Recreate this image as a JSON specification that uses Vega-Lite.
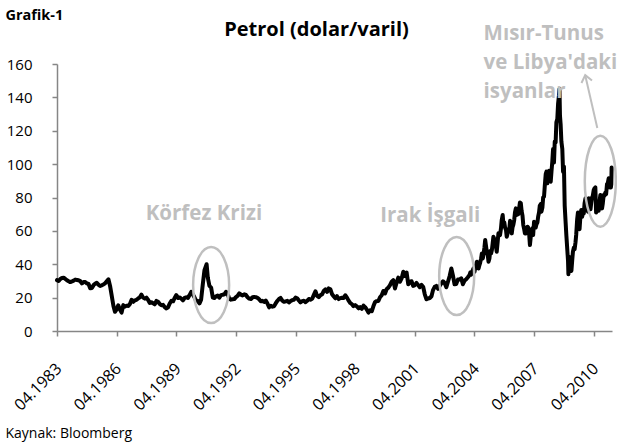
{
  "$schema": "https://vega.github.io/schema/vega-lite/v6.json",
  "autosize": {"type": "none"},
  "width": 555,
  "height": 267,
  "padding": {"left": 57, "top": 64, "right": 5, "bottom": 116},
  "background": "white",
  "config": {"view": {"stroke": null}, "font": "Open Sans"},
  "title": {"text": "Petrol (dolar/varil)", "font": "Open Sans", "fontSize": 20, "fontWeight": "bold", "color": "#000000", "anchor": "middle", "frame": "group", "dx": -18, "baseline": "alphabetic", "offset": -49},
  "datasets": {
    "oil": [
      {"d":"1983-04-01","v":30.5},{"d":"1983-05-01","v":30.0},{"d":"1983-06-01","v":31.2},{"d":"1983-07-01","v":31.8},{"d":"1983-08-01","v":31.9},{"d":"1983-09-01","v":31.2},{"d":"1983-10-01","v":30.4},{"d":"1983-11-01","v":29.8},{"d":"1983-12-01","v":29.3},
      {"d":"1984-01-01","v":29.7},{"d":"1984-02-01","v":30.2},{"d":"1984-03-01","v":30.8},{"d":"1984-04-01","v":30.6},{"d":"1984-05-01","v":30.4},{"d":"1984-06-01","v":29.9},{"d":"1984-07-01","v":28.5},{"d":"1984-08-01","v":29.4},{"d":"1984-09-01","v":29.3},{"d":"1984-10-01","v":28.6},{"d":"1984-11-01","v":28.2},{"d":"1984-12-01","v":25.6},
      {"d":"1985-01-01","v":25.8},{"d":"1985-02-01","v":27.5},{"d":"1985-03-01","v":28.3},{"d":"1985-04-01","v":28.9},{"d":"1985-05-01","v":27.8},{"d":"1985-06-01","v":27.0},{"d":"1985-07-01","v":27.4},{"d":"1985-08-01","v":27.9},{"d":"1985-09-01","v":28.6},{"d":"1985-10-01","v":29.8},{"d":"1985-11-01","v":31.0},{"d":"1985-12-01","v":27.0},
      {"d":"1986-01-01","v":21.0},{"d":"1986-02-01","v":15.0},{"d":"1986-03-01","v":11.5},{"d":"1986-04-01","v":13.0},{"d":"1986-05-01","v":15.4},{"d":"1986-06-01","v":12.8},{"d":"1986-07-01","v":11.0},{"d":"1986-08-01","v":15.5},{"d":"1986-09-01","v":14.6},{"d":"1986-10-01","v":15.2},{"d":"1986-11-01","v":15.0},{"d":"1986-12-01","v":16.2},
      {"d":"1987-01-01","v":18.7},{"d":"1987-02-01","v":17.5},{"d":"1987-03-01","v":18.4},{"d":"1987-04-01","v":18.7},{"d":"1987-05-01","v":19.5},{"d":"1987-06-01","v":20.2},{"d":"1987-07-01","v":21.8},{"d":"1987-08-01","v":20.0},{"d":"1987-09-01","v":19.4},{"d":"1987-10-01","v":20.0},{"d":"1987-11-01","v":18.6},{"d":"1987-12-01","v":16.8},
      {"d":"1988-01-01","v":17.2},{"d":"1988-02-01","v":16.6},{"d":"1988-03-01","v":16.0},{"d":"1988-04-01","v":18.0},{"d":"1988-05-01","v":17.5},{"d":"1988-06-01","v":16.2},{"d":"1988-07-01","v":15.4},{"d":"1988-08-01","v":15.7},{"d":"1988-09-01","v":14.3},{"d":"1988-10-01","v":13.5},{"d":"1988-11-01","v":14.2},{"d":"1988-12-01","v":16.5},
      {"d":"1989-01-01","v":18.1},{"d":"1989-02-01","v":17.8},{"d":"1989-03-01","v":19.8},{"d":"1989-04-01","v":21.5},{"d":"1989-05-01","v":19.8},{"d":"1989-06-01","v":20.1},{"d":"1989-07-01","v":19.4},{"d":"1989-08-01","v":18.4},{"d":"1989-09-01","v":19.8},{"d":"1989-10-01","v":20.2},{"d":"1989-11-01","v":19.8},{"d":"1989-12-01","v":21.5},
      {"d":"1990-01-01","v":23.5},{"d":"1990-02-01","v":21.8},{"d":"1990-03-01","v":20.2},{"d":"1990-04-01","v":18.2},{"d":"1990-05-01","v":18.0},{"d":"1990-06-01","v":16.5},{"d":"1990-07-01","v":18.8},{"d":"1990-08-01","v":28.0},{"d":"1990-09-01","v":36.5},{"d":"1990-10-10","v":40.0},{"d":"1990-11-01","v":32.0},{"d":"1990-12-01","v":27.0},
      {"d":"1991-01-01","v":26.0},{"d":"1991-02-01","v":20.0},{"d":"1991-03-01","v":19.8},{"d":"1991-04-01","v":20.8},{"d":"1991-05-01","v":21.2},{"d":"1991-06-01","v":20.0},{"d":"1991-07-01","v":21.5},{"d":"1991-08-01","v":21.7},{"d":"1991-09-01","v":22.0},{"d":"1991-10-01","v":23.5},{"d":"1991-11-01","v":22.3},{"d":"1991-12-01","v":19.3},
      {"d":"1992-01-01","v":18.8},{"d":"1992-02-01","v":19.0},{"d":"1992-03-01","v":19.1},{"d":"1992-04-01","v":20.3},{"d":"1992-05-01","v":21.0},{"d":"1992-06-01","v":22.5},{"d":"1992-07-01","v":21.8},{"d":"1992-08-01","v":21.3},{"d":"1992-09-01","v":22.0},{"d":"1992-10-01","v":21.6},{"d":"1992-11-01","v":20.2},{"d":"1992-12-01","v":19.4},
      {"d":"1993-01-01","v":19.2},{"d":"1993-02-01","v":20.2},{"d":"1993-03-01","v":20.4},{"d":"1993-04-01","v":20.3},{"d":"1993-05-01","v":19.9},{"d":"1993-06-01","v":19.0},{"d":"1993-07-01","v":17.8},{"d":"1993-08-01","v":18.1},{"d":"1993-09-01","v":17.4},{"d":"1993-10-01","v":18.2},{"d":"1993-11-01","v":16.5},{"d":"1993-12-01","v":14.2},
      {"d":"1994-01-01","v":15.1},{"d":"1994-02-01","v":14.6},{"d":"1994-03-01","v":14.8},{"d":"1994-04-01","v":16.5},{"d":"1994-05-01","v":18.0},{"d":"1994-06-01","v":19.2},{"d":"1994-07-01","v":19.8},{"d":"1994-08-01","v":18.2},{"d":"1994-09-01","v":17.5},{"d":"1994-10-01","v":17.8},{"d":"1994-11-01","v":18.1},{"d":"1994-12-01","v":17.1},
      {"d":"1995-01-01","v":18.0},{"d":"1995-02-01","v":18.5},{"d":"1995-03-01","v":18.7},{"d":"1995-04-01","v":20.0},{"d":"1995-05-01","v":19.6},{"d":"1995-06-01","v":18.3},{"d":"1995-07-01","v":17.2},{"d":"1995-08-01","v":17.9},{"d":"1995-09-01","v":18.1},{"d":"1995-10-01","v":17.3},{"d":"1995-11-01","v":18.1},{"d":"1995-12-01","v":19.2},
      {"d":"1996-01-01","v":18.8},{"d":"1996-02-01","v":19.3},{"d":"1996-03-01","v":21.5},{"d":"1996-04-01","v":23.8},{"d":"1996-05-01","v":21.0},{"d":"1996-06-01","v":20.3},{"d":"1996-07-01","v":21.4},{"d":"1996-08-01","v":22.0},{"d":"1996-09-01","v":24.0},{"d":"1996-10-01","v":25.0},{"d":"1996-11-01","v":23.5},{"d":"1996-12-01","v":25.5},
      {"d":"1997-01-01","v":25.0},{"d":"1997-02-01","v":22.0},{"d":"1997-03-01","v":20.8},{"d":"1997-04-01","v":19.6},{"d":"1997-05-01","v":20.9},{"d":"1997-06-01","v":19.1},{"d":"1997-07-01","v":19.7},{"d":"1997-08-01","v":19.9},{"d":"1997-09-01","v":19.8},{"d":"1997-10-01","v":21.4},{"d":"1997-11-01","v":20.0},{"d":"1997-12-01","v":18.2},
      {"d":"1998-01-01","v":16.8},{"d":"1998-02-01","v":16.0},{"d":"1998-03-01","v":14.9},{"d":"1998-04-01","v":15.5},{"d":"1998-05-01","v":14.8},{"d":"1998-06-01","v":13.6},{"d":"1998-07-01","v":14.3},{"d":"1998-08-01","v":13.3},{"d":"1998-09-01","v":15.2},{"d":"1998-10-01","v":14.3},{"d":"1998-11-01","v":12.8},{"d":"1998-12-01","v":11.0},
      {"d":"1999-01-01","v":12.4},{"d":"1999-02-01","v":11.9},{"d":"1999-03-01","v":14.8},{"d":"1999-04-01","v":17.4},{"d":"1999-05-01","v":17.9},{"d":"1999-06-01","v":18.0},{"d":"1999-07-01","v":20.2},{"d":"1999-08-01","v":21.4},{"d":"1999-09-01","v":24.0},{"d":"1999-10-01","v":22.5},{"d":"1999-11-01","v":25.2},{"d":"1999-12-01","v":26.0},
      {"d":"2000-01-01","v":27.5},{"d":"2000-02-01","v":29.6},{"d":"2000-03-01","v":30.5},{"d":"2000-04-01","v":25.5},{"d":"2000-05-01","v":29.0},{"d":"2000-06-01","v":32.0},{"d":"2000-07-01","v":29.5},{"d":"2000-08-01","v":31.5},{"d":"2000-09-01","v":35.5},{"d":"2000-10-01","v":33.0},{"d":"2000-11-01","v":35.0},{"d":"2000-12-01","v":28.0},
      {"d":"2001-01-01","v":29.5},{"d":"2001-02-01","v":29.8},{"d":"2001-03-01","v":27.0},{"d":"2001-04-01","v":27.5},{"d":"2001-05-01","v":28.8},{"d":"2001-06-01","v":27.5},{"d":"2001-07-01","v":26.3},{"d":"2001-08-01","v":27.6},{"d":"2001-09-01","v":26.5},{"d":"2001-10-01","v":22.0},{"d":"2001-11-01","v":19.0},{"d":"2001-12-01","v":19.5},
      {"d":"2002-01-01","v":19.8},{"d":"2002-02-01","v":20.8},{"d":"2002-03-01","v":24.5},{"d":"2002-04-01","v":26.5},{"d":"2002-05-01","v":27.0},{"d":"2002-06-01","v":25.3},{"d":"2002-07-01","v":27.0},{"d":"2002-08-01","v":28.5},{"d":"2002-09-01","v":29.8},{"d":"2002-10-01","v":28.8},{"d":"2002-11-01","v":26.2},{"d":"2002-12-01","v":29.5},
      {"d":"2003-01-01","v":33.0},{"d":"2003-02-01","v":37.5},{"d":"2003-03-01","v":33.5},{"d":"2003-04-01","v":28.0},{"d":"2003-05-01","v":28.2},{"d":"2003-06-01","v":30.8},{"d":"2003-07-01","v":30.8},{"d":"2003-08-01","v":31.6},{"d":"2003-09-01","v":28.0},{"d":"2003-10-01","v":30.2},{"d":"2003-11-01","v":31.0},{"d":"2003-12-01","v":32.2},
      {"d":"2004-01-01","v":33.5},{"d":"2004-01-15","v":35.0},{"d":"2004-02-01","v":33.8},{"d":"2004-02-15","v":35.5},{"d":"2004-03-01","v":36.5},{"d":"2004-03-15","v":37.5},{"d":"2004-04-01","v":35.5},{"d":"2004-04-15","v":37.8},{"d":"2004-05-01","v":39.5},{"d":"2004-05-15","v":41.5},{"d":"2004-06-01","v":40.0},{"d":"2004-06-15","v":37.5},{"d":"2004-07-01","v":39.5},{"d":"2004-07-15","v":41.0},{"d":"2004-08-01","v":43.5},{"d":"2004-08-15","v":46.5},{"d":"2004-09-01","v":43.5},{"d":"2004-09-15","v":46.0},{"d":"2004-10-01","v":50.0},{"d":"2004-10-15","v":54.5},{"d":"2004-11-01","v":50.5},{"d":"2004-11-15","v":47.0},{"d":"2004-12-01","v":45.5},{"d":"2004-12-15","v":41.5},
      {"d":"2005-01-01","v":43.5},{"d":"2005-01-15","v":48.0},{"d":"2005-02-01","v":46.5},{"d":"2005-02-15","v":48.5},{"d":"2005-03-01","v":52.5},{"d":"2005-03-15","v":56.5},{"d":"2005-04-01","v":55.0},{"d":"2005-04-15","v":51.0},{"d":"2005-05-01","v":50.5},{"d":"2005-05-15","v":47.5},{"d":"2005-06-01","v":53.5},{"d":"2005-06-15","v":58.5},{"d":"2005-07-01","v":58.0},{"d":"2005-07-15","v":57.5},{"d":"2005-08-01","v":61.5},{"d":"2005-08-15","v":66.5},{"d":"2005-09-01","v":69.5},{"d":"2005-09-15","v":64.0},{"d":"2005-10-01","v":65.0},{"d":"2005-10-15","v":62.0},{"d":"2005-11-01","v":60.5},{"d":"2005-11-15","v":56.5},{"d":"2005-12-01","v":58.5},{"d":"2005-12-15","v":61.0},
      {"d":"2006-01-01","v":61.0},{"d":"2006-01-15","v":66.0},{"d":"2006-02-01","v":64.5},{"d":"2006-02-15","v":58.5},{"d":"2006-03-01","v":62.0},{"d":"2006-03-15","v":63.5},{"d":"2006-04-01","v":66.5},{"d":"2006-04-15","v":71.0},{"d":"2006-05-01","v":73.5},{"d":"2006-05-15","v":69.5},{"d":"2006-06-01","v":72.0},{"d":"2006-06-15","v":70.0},{"d":"2006-07-01","v":73.5},{"d":"2006-07-15","v":77.0},{"d":"2006-08-01","v":76.5},{"d":"2006-08-15","v":72.0},{"d":"2006-09-01","v":69.0},{"d":"2006-09-15","v":63.5},{"d":"2006-10-01","v":61.0},{"d":"2006-10-15","v":58.5},{"d":"2006-11-01","v":58.5},{"d":"2006-11-15","v":59.5},{"d":"2006-12-01","v":62.5},{"d":"2006-12-15","v":62.0},
      {"d":"2007-01-01","v":58.0},{"d":"2007-01-15","v":51.5},{"d":"2007-02-01","v":57.0},{"d":"2007-02-15","v":59.0},{"d":"2007-03-01","v":61.5},{"d":"2007-03-15","v":57.5},{"d":"2007-04-01","v":65.5},{"d":"2007-04-15","v":63.5},{"d":"2007-05-01","v":62.0},{"d":"2007-05-15","v":64.0},{"d":"2007-06-01","v":65.0},{"d":"2007-06-15","v":68.5},{"d":"2007-07-01","v":71.0},{"d":"2007-07-15","v":75.0},{"d":"2007-08-01","v":76.0},{"d":"2007-08-15","v":71.5},{"d":"2007-09-01","v":74.0},{"d":"2007-09-15","v":80.0},{"d":"2007-10-01","v":80.5},{"d":"2007-10-15","v":87.0},{"d":"2007-11-01","v":94.0},{"d":"2007-11-15","v":95.5},{"d":"2007-12-01","v":88.5},{"d":"2007-12-15","v":91.0},
      {"d":"2008-01-01","v":96.0},{"d":"2008-01-15","v":90.5},{"d":"2008-02-01","v":89.5},{"d":"2008-02-15","v":95.5},{"d":"2008-03-01","v":101.5},{"d":"2008-03-15","v":109.0},{"d":"2008-04-01","v":101.0},{"d":"2008-04-15","v":113.5},{"d":"2008-05-01","v":113.0},{"d":"2008-05-15","v":125.0},{"d":"2008-06-01","v":127.0},{"d":"2008-06-15","v":136.0},{"d":"2008-07-01","v":141.0},{"d":"2008-07-11","v":145.0},{"d":"2008-07-20","v":129.0},{"d":"2008-08-01","v":124.0},{"d":"2008-08-15","v":113.5},{"d":"2008-09-01","v":109.0},{"d":"2008-09-15","v":95.5},{"d":"2008-10-01","v":98.5},{"d":"2008-10-15","v":75.0},{"d":"2008-11-01","v":65.0},{"d":"2008-11-15","v":57.0},{"d":"2008-12-01","v":49.0},{"d":"2008-12-15","v":42.0},{"d":"2008-12-22","v":34.0},
      {"d":"2009-01-01","v":44.5},{"d":"2009-01-15","v":36.0},{"d":"2009-02-01","v":41.0},{"d":"2009-02-15","v":36.0},{"d":"2009-03-01","v":42.0},{"d":"2009-03-15","v":47.5},{"d":"2009-04-01","v":50.0},{"d":"2009-04-15","v":49.0},{"d":"2009-05-01","v":53.0},{"d":"2009-05-15","v":58.0},{"d":"2009-06-01","v":67.0},{"d":"2009-06-15","v":71.0},{"d":"2009-07-01","v":66.0},{"d":"2009-07-15","v":61.0},{"d":"2009-08-01","v":69.5},{"d":"2009-08-15","v":72.5},{"d":"2009-09-01","v":68.5},{"d":"2009-09-15","v":71.5},{"d":"2009-10-01","v":70.5},{"d":"2009-10-15","v":76.5},{"d":"2009-11-01","v":79.5},{"d":"2009-11-15","v":77.5},{"d":"2009-12-01","v":76.5},{"d":"2009-12-15","v":71.5},
      {"d":"2010-01-01","v":79.5},{"d":"2010-01-15","v":78.0},{"d":"2010-02-01","v":73.0},{"d":"2010-02-15","v":77.0},{"d":"2010-03-01","v":80.0},{"d":"2010-03-15","v":81.0},{"d":"2010-04-01","v":84.5},{"d":"2010-04-15","v":85.5},{"d":"2010-05-01","v":86.0},{"d":"2010-05-15","v":71.0},{"d":"2010-06-01","v":72.5},{"d":"2010-06-15","v":77.0},{"d":"2010-07-01","v":72.0},{"d":"2010-07-15","v":77.0},{"d":"2010-08-01","v":81.5},{"d":"2010-08-15","v":75.5},{"d":"2010-09-01","v":73.5},{"d":"2010-09-15","v":76.5},{"d":"2010-10-01","v":81.5},{"d":"2010-10-15","v":81.0},{"d":"2010-11-01","v":83.0},{"d":"2010-11-15","v":82.0},{"d":"2010-12-01","v":88.0},{"d":"2010-12-15","v":88.5},
      {"d":"2011-01-01","v":91.5},{"d":"2011-01-15","v":88.5},{"d":"2011-01-25","v":86.0},{"d":"2011-02-01","v":90.5},{"d":"2011-02-10","v":86.0},{"d":"2011-02-18","v":88.0},{"d":"2011-02-24","v":98.0}
    ],
    "labels": [
      {"d":"1990-08-22","v":66.5,"t":"Körfez Krizi"},
      {"d":"2002-01-08","v":65.6,"t":"Irak İşgali"}
    ],
    "labels2": [
      {"d":"2004-09-15","v":174.3,"t":"Mısır-Tunus"},
      {"d":"2004-09-15","v":156.9,"t":"ve Libya'daki"},
      {"d":"2004-09-15","v":139.8,"t":"isyanlar"}
    ],
    "e1": [{"d":"1991-01-01","v":27.5}],
    "e2": [{"d":"2003-05-10","v":32.9}],
    "e3": [{"d":"2010-07-31","v":89.8}],
    "arrow": [{"d":"2010-06-06","v":121.6},{"d":"2009-10-27","v":153.3}],
    "head": [{"d":"2009-10-27","v":153.3}]
  },
  "encoding": {
    "x": {
      "field": "d", "type": "temporal",
      "scale": {"type": "utc", "domain": [{"year":1983,"month":4,"date":1,"utc":true},{"year":2011,"month":3,"date":3,"utc":true}]},
      "axis": {
        "values": [
          {"year":1983,"month":4,"date":1,"utc":true},{"year":1986,"month":4,"date":1,"utc":true},{"year":1989,"month":4,"date":1,"utc":true},{"year":1992,"month":4,"date":1,"utc":true},{"year":1995,"month":4,"date":1,"utc":true},{"year":1998,"month":4,"date":1,"utc":true},{"year":2001,"month":4,"date":1,"utc":true},{"year":2004,"month":4,"date":1,"utc":true},{"year":2007,"month":4,"date":1,"utc":true},{"year":2010,"month":4,"date":1,"utc":true}
        ],
        "labelExpr": "utcFormat(datum.value, '%m.%Y')",
        "labelAngle": -45, "labelFont": "Open Sans", "labelFontSize": 16, "labelColor": "#000000",
        "labelPadding": 24, "labelOffset": -4, "labelOverlap": false, "labelBound": false,
        "grid": false, "tickSize": 5, "tickColor": "#868686", "domainColor": "#868686", "domainWidth": 1.5, "tickWidth": 1.5,
        "title": "Kaynak: Bloomberg", "titleFont": "Open Sans", "titleFontSize": 14, "titleFontWeight": "normal", "titleColor": "#000000",
        "titleX": -52, "titleY": 106, "titleAlign": "left", "titleBaseline": "alphabetic", "titleAnchor": "start"
      }
    },
    "y": {
      "field": "v", "type": "quantitative",
      "scale": {"domain": [0, 160], "nice": false, "zero": true},
      "axis": {
        "values": [0,20,40,60,80,100,120,140,160],
        "labelFont": "Open Sans", "labelFontSize": 15, "labelColor": "#000000", "labelPadding": 20,
        "grid": false, "tickSize": 5, "tickColor": "#868686", "domainColor": "#868686", "domainWidth": 1.5, "tickWidth": 1.5,
        "title": "Grafik-1", "titleFont": "Open Sans", "titleFontSize": 14.5, "titleFontWeight": "bold", "titleColor": "#000000",
        "titleAngle": 0, "titleX": -52, "titleY": -45, "titleAlign": "left", "titleBaseline": "alphabetic", "titleAnchor": "start"
      }
    }
  },
  "layer": [
    {"data": {"name": "oil"}, "mark": {"type": "line", "color": "#000000", "strokeWidth": 4, "strokeJoin": "round", "strokeCap": "round"}},
    {"data": {"name": "e1"}, "mark": {"type": "point", "filled": false, "stroke": "#BFBFBF", "strokeWidth": 2.5, "opacity": 1, "size": 5776, "shape": "M -0.474 0 A 0.474 1 0 1 0 0.474 0 A 0.474 1 0 1 0 -0.474 0 Z"}},
    {"data": {"name": "e2"}, "mark": {"type": "point", "filled": false, "stroke": "#BFBFBF", "strokeWidth": 2.5, "opacity": 1, "size": 6084, "shape": "M -0.449 0 A 0.449 1 0 1 0 0.449 0 A 0.449 1 0 1 0 -0.449 0 Z"}},
    {"data": {"name": "e3"}, "mark": {"type": "point", "filled": false, "stroke": "#BFBFBF", "strokeWidth": 2.5, "opacity": 1, "size": 8281, "shape": "M -0.341 0 A 0.341 1 0 1 0 0.341 0 A 0.341 1 0 1 0 -0.341 0 Z"}},
    {"data": {"name": "arrow"}, "mark": {"type": "line", "color": "#BFBFBF", "strokeWidth": 2}},
    {"data": {"name": "head"}, "mark": {"type": "point", "filled": false, "stroke": "#BFBFBF", "strokeWidth": 2, "opacity": 1, "size": 324, "angle": -13, "shape": "M -0.6 0.75 L 0 0 L 0.6 0.75"}},
    {"data": {"name": "labels"}, "mark": {"type": "text", "font": "Open Sans", "fontSize": 20.5, "fontWeight": "bold", "color": "#BFBFBF", "align": "center", "baseline": "alphabetic"}, "encoding": {"text": {"field": "t"}}},
    {"data": {"name": "labels2"}, "mark": {"type": "text", "font": "Open Sans", "fontSize": 20.5, "fontWeight": "bold", "color": "#BFBFBF", "align": "left", "baseline": "alphabetic"}, "encoding": {"text": {"field": "t"}}}
  ]
}
